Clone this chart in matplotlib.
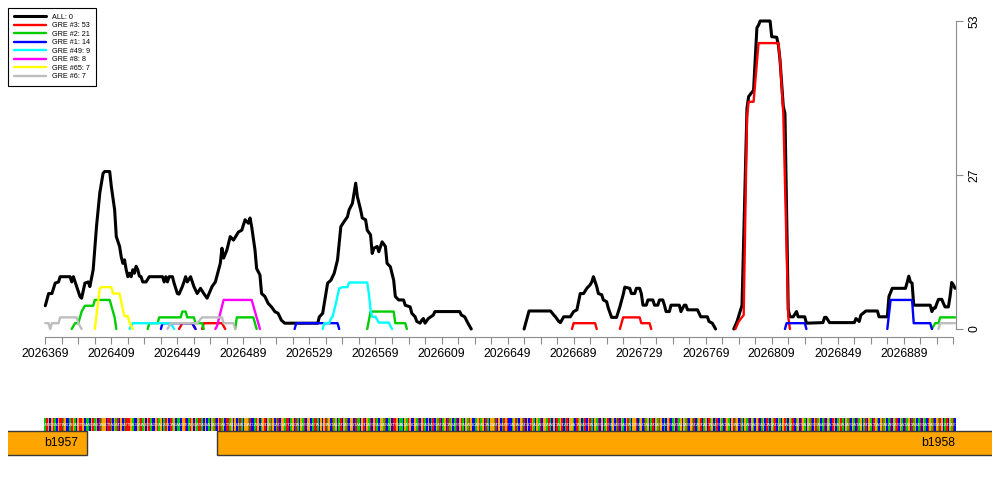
import numpy as np
import matplotlib
matplotlib.use("Agg")
import matplotlib.pyplot as plt

# ---------------- data ----------------
START = 2026369
END = 2026919
nan = np.nan

# ALL (black) : offsets from START and values, nan = gap
all_off = [0, 2, 4, 6, 8, 9, 15, 16, 17, 19, 21, 22, 24, 26, 27, 29, 31, 33, 35, 36, 39, 40, 42, 43, 45,
           46, 47, 48, 49, 50, 51, 52, 53, 54, 55, 56, 57, 58, 59, 61, 63, 71, 72, 73, 74, 75, 77, 78, 80,
           81, 83, 84, 85, 86, 88, 90, 92, 94, 96, 98, 101, 103, 106, 107, 108, 110, 112, 114, 117, 119,
           121, 123, 124, 125, 127, 128, 130, 131, 133, 135, 137, 139, 141, 143, 145, 165, 166, 168, 169,
           171, 173, 175, 177, 179, 181, 183, 184, 186, 188, 189, 191, 192, 194, 195, 197, 198, 199, 201,
           202, 204, 206, 207, 209, 211, 212, 214, 217, 218, 221, 222, 224, 225, 227, 228, 229, 230, 232,
           235, 236, 251, 252, 254, 256, 258, nan,
           290, 293, 306, 308, 309, 311, 312, 314, 318, 320, 322, 324, 326, 328, 330, 331, 332, 334, 335,
           337, 338, 340, 341, 343, 346, 348, 350, 351, 354, 355, 357, 358, 360, 361, 362, 364, 365, 368,
           369, 371, 372, 374, 375, 376, 378, 379, 384, 385, 387, 388, 389, 395, 397, 401, 402, 404, 406, nan,
           417, 419, 422, 425, 426, 429, 430, 431, 432, 433, 439, 440, 443, 444, 445, 447, 448, 450, 451,
           453, 455, 456, 460, 461, 471, 472, 473, 475, 490, 491, 493, 494, 497, 504, 505, 510, 511, 513,
           521, 522, 523, 524, 525, 526, 536, 537, 538, 539, 540, 541, 543, 544, 545, 547, 548, 549, 550, 551]
all_val = [4.0, 6.1, 6.1, 7.9, 8.1, 9.0, 9.0, 8.1, 9.0, 7.3, 5.6, 5.3, 7.9, 8.1, 7.3, 10.2, 17.6, 23.4, 26.8,
           27.1, 27.1, 24.5, 20.5, 15.9, 14.2, 12.4, 11.3, 11.9, 10.2, 9.0, 9.6, 9.0, 10.2, 9.6, 10.8, 10.2,
           9.1, 9.0, 8.1, 8.1, 9.0, 9.0, 8.1, 9.0, 8.1, 9.0, 9.0, 7.9, 6.1, 6.0, 7.3, 8.1, 9.0, 8.1, 9.0,
           7.3, 6.1, 7.0, 6.1, 5.3, 7.3, 8.1, 11.3, 13.9, 12.2, 13.6, 15.9, 15.3, 16.7, 17.0, 18.8, 18.2,
           19.1, 17.6, 13.6, 10.4, 9.3, 6.1, 5.6, 4.4, 3.8, 3.0, 2.7, 1.5, 1.0, 1.0, 2.1, 2.7, 4.4, 7.9, 8.4,
           9.6, 11.9, 17.6, 18.5, 19.3, 20.5, 21.6, 25.1, 22.8, 20.5, 19.1, 18.8, 17.0, 16.2, 13.0, 13.9,
           14.2, 13.3, 15.0, 14.2, 11.3, 10.7, 8.4, 5.6, 5.0, 5.0, 4.1, 3.8, 2.7, 2.1, 1.3, 1.0, 1.5, 1.8,
           1.0, 1.8, 2.4, 3.0, 3.0, 2.4, 2.1, 1.0, 0.0, nan,
           0.0, 3.1, 3.1, 2.4, 2.1, 1.3, 1.1, 2.1, 2.1, 3.0, 3.3, 6.1, 6.1, 7.0, 7.6, 8.1, 9.0, 7.3, 6.1,
           5.9, 5.0, 4.7, 3.6, 2.0, 2.0, 3.8, 5.9, 7.2, 7.0, 6.1, 6.1, 7.0, 7.0, 6.1, 4.1, 4.1, 5.0, 5.0,
           4.1, 4.1, 5.0, 5.0, 4.1, 3.0, 3.0, 4.1, 4.1, 3.0, 4.1, 4.1, 3.3, 3.3, 2.1, 2.1, 1.3, 1.0, 0.0, nan,
           0.0, 1.3, 4.1, 38.0, 40.0, 41.1, 46.3, 51.8, 52.3, 53.0, 53.0, 50.3, 50.2, 48.9, 46.3, 38.3, 37.1,
           3.3, 2.1, 2.1, 3.0, 2.1, 2.1, 1.0, 1.1, 2.0, 2.0, 1.1, 1.1, 1.8, 1.3, 2.4, 3.1, 3.1, 2.1, 2.1,
           5.6, 7.0, 7.0, 8.0, 9.1, 8.1, 7.9, 4.1, 4.1, 3.0, 3.6, 3.6, 4.4, 5.1, 5.1, 4.4, 3.8, 3.8, 5.6,
           8.0, 7.6, 7.0]

# GRE #3 (red)
gre3_off = [81, 83, 89, 91, nan, 95, 96, 107, 109, nan, 319, 320, 333, 334, nan,
            348, 350, 360, 361, 366, 367, nan,
            418, 420, 423, 425, 426, 429, 432, 444, 445, 447, 450, 451]
gre3_val = [0, 1, 1, 0, nan, 0, 1, 1, 0, nan, 0, 1, 1, 0, nan,
            0, 2, 2, 1, 1, 0, nan,
            0, 1.3, 2.4, 36.5, 39.1, 39.1, 49.2, 49.2, 46.3, 37.1, 2.1, 0]

# GRE #2 (green)
gre2_off = [16, 18, 20, 22, 24, 29, 30, 39, 40, 42, 43, nan,
            62, 63, 68, 69, 82, 83, 85, 86, 90, 91, 95, 96, nan,
            115, 116, 126, 127, 128, nan,
            195, 197, 211, 212, 218, 219, nan,
            537, 539, 541, 542, 551]
gre2_val = [0, 1, 1, 3, 4, 4, 5, 5, 4, 2, 0, nan,
            0, 1, 1, 2, 2, 3, 3, 2, 2, 1, 1, 0, nan,
            0, 2, 2, 1, 0, nan,
            0, 3, 3, 1, 1, 0, nan,
            0, 1, 1, 2, 2]

# GRE #1 (blue)
gre1_off = [70, 71, 89, 91, nan, 151, 152, 177, 178, nan, 448, 449, 460, 461, nan,
            510, 512, 525, 526, 536, 537]
gre1_val = [0, 1, 1, 0, nan, 0, 1, 1, 0, nan, 0, 1, 1, 0, nan,
            0, 5, 5, 1, 1, 0]

# GRE #49 (cyan)
gre49_off = [51, 53, 76, 78, nan,
             168, 169, 172, 173, 174, 176, 178, 180, 183, 184, 195, 196, 197, 198, 200, 202, 208, 210]
gre49_val = [0, 1, 1, 0, nan,
             0, 1, 1, 1.8, 2.1, 4.4, 7.0, 7.2, 7.2, 8.0, 8.0, 6.1, 3.3, 2.1, 2.1, 1.1, 1.1, 0]

# GRE #8 (magenta)
gre8_off = [103, 104, 108, 125, 129, 130]
gre8_val = [0, 0.5, 5, 5, 1, 0]

# GRE #65 (yellow)
gre65_off = [30, 33, 34, 40, 41, 45, 47, 48, 50, 51, 53]
gre65_val = [0, 7.0, 7.2, 7.2, 6.1, 6.1, 3.3, 2.2, 2.2, 1.1, 0]

# GRE #6 (gray)
gre6_off = [0, 2, 3, 4, 8, 9, 19, 20, 22, nan,
            74, 76, 92, 95, 107, 108, 114, 115, nan,
            541, 542, 551]
gre6_val = [1, 1, 0, 1, 1, 2, 2, 1, 0, nan,
            0, 1, 1, 2, 2, 1, 1, 0, nan,
            0, 1, 1]

series_labels = ["ALL: 0", "GRE #3: 53", "GRE #2: 21", "GRE #1: 14",
                 "GRE #49: 9", "GRE #8: 8", "GRE #65: 7", "GRE #6: 7"]
series_colors = ["#000000", "#FF0000", "#00CD00", "#0000FF",
                 "#00FFFF", "#FF00FF", "#FFFF00", "#BEBEBE"]
series_off = [all_off, gre3_off, gre2_off, gre1_off, gre49_off, gre8_off, gre65_off, gre6_off]
series_val = [all_val, gre3_val, gre2_val, gre1_val, gre49_val, gre8_val, gre65_val, gre6_val]

y_ticks = [0, 26.5, 53]
y_tick_labels = ["0", "27", "53"]

# genomic sequence shown under the plot
seq = "".join("""
ATGCGTACGT TAGCCATGAC GTTGCAACGT AGCTAGGCTT ACGATCGCAT
TTGACCGATA GCGTACCGTA GCATGCTAGC AACGGTCATG CGATTACGCA
CGATCGTAGC TTAGCGCATA CGGATCCATG CAGTCGATGC ATCGGATTCA
GCTACGATCG GCATTACGCG TAGCTAGCAT CGATCGGCTA ACGTCGATCG
TACGGATCAG CTTGCAACGA TGCCGATCGT ACGCATCGAT CAGCTAGCAT
CGTACGATGC CAGTAGCTAC GGATCGCATG TCCAGTACGA TCGCTGACGA
TCGGATACGC TAGTCATCGG ACTAGCATCG TACGATCGCA GTCAGCATCG
ACGTACGGTC AGCTAGCATC GATGCACGTC AGCTAGCGAT CGATCAGTCA
GCTAGCATCG ACTGACGTAG CTACGATCGA CGTCAGCTAC GATCGACGTA
CGATCAGCTG ACGATCGTAG CATCGACTGC AGTACGATCG ACTAGCATCG
ACTGACGTAG CATCGATCGA CTAGCTAGCA TCGACTGATC GATGCATCGA
TC
""".split())
base_colors = {"A": "#00CC00", "C": "#0000FF", "G": "#FFA500", "T": "#FF0000"}

gene_names = ["b1957", "b1958"]
gene_start = [2026200, 2026473]
gene_end = [2026394, 2027100]
gene_label_pos = [2026389, 2026920]

# ---------------- figure ----------------
plt.rcParams["font.family"] = ["Liberation Sans", "DejaVu Sans"]
W, H = 1000, 500
fig = plt.figure(figsize=(10, 5), dpi=100)


def px_axes(l, t, r, b):
    return fig.add_axes([l / W, 1 - b / H, (r - l) / W, (b - t) / H])


PXPB = 1.651  # pixels per base
LEFT_PX, RIGHT_PX = 45.3, 955.7
x_lo = START
x_hi = START + (RIGHT_PX - LEFT_PX) / PXPB

ax = px_axes(LEFT_PX, 21, RIGHT_PX, 329)
ax.set_xlim(x_lo, x_hi)
ax.set_ylim(0, 53)

handles = []
for off, val, col, lab in zip(series_off, series_val, series_colors, series_labels):
    x = START + np.array(off, dtype=float)
    y = np.array(val, dtype=float)
    lw = 2.2 if col == "#000000" else 1.7
    h, = ax.plot(x, y, color=col, lw=lw, clip_on=False,
                 solid_joinstyle="round", solid_capstyle="round", label=lab)
    handles.append(h)

gray = "#8C8C8C"
for s in ("top", "left"):
    ax.spines[s].set_visible(False)
ax.spines["right"].set_bounds(0, 53)
ax.spines["right"].set_color(gray)
ax.spines["bottom"].set_position(("outward", 5.5))
ax.spines["bottom"].set_bounds(START, END)
ax.spines["bottom"].set_color(gray)

xt = list(range(START, END + 1, 10))
ax.set_xticks(xt)
ax.set_xticklabels([str(p) if (p - START) % 40 == 0 else "" for p in xt])
ax.tick_params(axis="x", direction="out", length=5, color=gray, labelsize=8.8, pad=3.5)

ax.yaxis.tick_right()
ax.set_yticks(y_ticks)
ax.set_yticklabels(y_tick_labels)
ax.tick_params(axis="y", direction="out", length=5, color=gray, labelsize=8.8, pad=4)
for t in ax.get_yticklabels():
    t.set_rotation(90)
    t.set_va("center")

leg = ax.legend(handles=handles, loc="upper left", bbox_to_anchor=(8 / W, 1 - 8 / H),
                bbox_transform=fig.transFigure, fontsize=5.2, handlelength=4.5,
                handletextpad=0.85, labelspacing=0.2, borderpad=0.8, borderaxespad=0,
                fancybox=False, framealpha=1, edgecolor="black")
leg.get_frame().set_linewidth(0.8)

# ---------------- sequence + gene track ----------------
TR_L, TR_R = 8, 992
ax2 = px_axes(TR_L, 410, TR_R, 460)
ax2.set_xlim(START + (TR_L - LEFT_PX) / PXPB, START + (TR_R - LEFT_PX) / PXPB)
ax2.set_ylim(460, 410)
ax2.axis("off")

bpos = START + np.arange(len(seq))
ax2.bar(bpos, 12.4, bottom=418.3, width=1.0, color=[base_colors[b] for b in seq], linewidth=0)
for p, b in zip(bpos, seq):
    ax2.text(p, 424.5, b, fontsize=3.2, color="white", ha="center", va="center", alpha=0.8)

ax2.barh([442.8] * len(gene_names), np.array(gene_end) - np.array(gene_start), left=gene_start,
         height=24.3, color="#FFA500", edgecolor="#3a3a3a", linewidth=1.0)
for name, lp in zip(gene_names, gene_label_pos):
    ax2.text(lp, 443, name, ha="right", va="center", fontsize=8.8, color="black")

fig.savefig("out.png", dpi=100)
